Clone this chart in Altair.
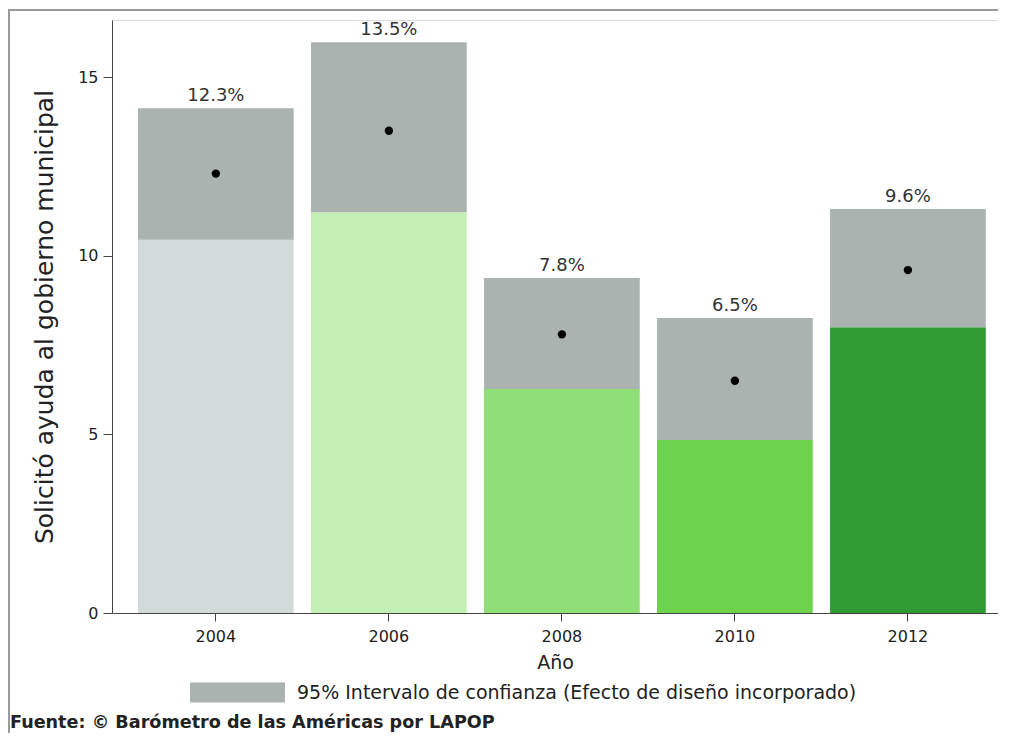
import altair as alt
import pandas as pd

years = ["2004", "2006", "2008", "2010", "2012"]
means = [12.3, 13.5, 7.8, 6.5, 9.6]
lower = [10.45, 11.22, 6.27, 4.84, 8.0]
upper = [14.13, 15.98, 9.38, 8.26, 11.31]
labels = ["12.3%", "13.5%", "7.8%", "6.5%", "9.6%"]
bar_colors = ["#d3dbda", "#c4efb4", "#8fdf76", "#6dd24c", "#2f9a31"]
ci_name = "95% Intervalo de confianza (Efecto de diseño incorporado)"
source_text = "Fuente: © Barómetro de las Américas por LAPOP"

df = pd.DataFrame({
    "year": years, "mean": means, "lower": lower, "upper": upper,
    "label": labels, "col": bar_colors, "ci": [ci_name] * len(years),
})

FONT = "DejaVu Sans"
xscale = alt.Scale(paddingInner=0.1, paddingOuter=0.1105, align=0.68)
yscale = alt.Scale(domain=[0, 16.6], nice=False, zero=True)

x = alt.X("year:N", scale=xscale, sort=years,
          axis=alt.Axis(title="Año", labelAngle=0, tickSize=8, labelPadding=7,
                        labelFontSize=16, titleFontSize=19, titlePadding=9,
                        labelColor="#222", titleColor="#222", titleFontWeight="normal",
                        domainColor="#444", tickColor="#444", labelFont=FONT, titleFont=FONT))

base = alt.Chart(df)

bars = base.mark_bar().encode(
    x=x,
    y=alt.Y("lower:Q", scale=yscale,
            axis=alt.Axis(title="Solicitó ayuda al gobierno municipal", values=[0, 5, 10, 15],
                          tickSize=9, labelPadding=5, labelFontSize=16, titleFontSize=25,
                          titlePadding=20, grid=False, labelColor="#222", titleColor="#222",
                          titleFontWeight="normal", domainColor="#444", tickColor="#444",
                          labelFont=FONT, titleFont=FONT)),
    color=alt.Color("col:N", scale=None, legend=None),
)

ci = base.mark_bar().encode(
    x=alt.X("year:N", scale=xscale, sort=years),
    y=alt.Y("lower:Q", scale=yscale),
    y2="upper:Q",
    fill=alt.Fill("ci:N", scale=alt.Scale(domain=[ci_name], range=["#aab3b0"]),
                  legend=alt.Legend(title=None, orient="none", legendX=78, legendY=625,
                                    symbolType="M-1,-0.21H1V0.21H-1Z", symbolSize=9025,
                                    symbolStrokeWidth=0, labelOffset=12, labelFontSize=19,
                                    labelFont=FONT, labelColor="#222", padding=0,
                                    labelLimit=800)),
)

dots = base.mark_circle(size=70, color="black", opacity=1).encode(
    x=alt.X("year:N", scale=xscale, sort=years),
    y=alt.Y("mean:Q", scale=yscale),
)

txt = base.mark_text(baseline="bottom", dy=-3, fontSize=18, font=FONT, color="#333").encode(
    x=alt.X("year:N", scale=xscale, sort=years),
    y=alt.Y("upper:Q", scale=yscale),
    text="label:N",
)

src = alt.Chart(pd.DataFrame({"t": [source_text]})).mark_text(
    align="left", baseline="middle", fontSize=17.6, font=FONT, fontWeight="bold", color="#222"
).encode(x=alt.value(-102), y=alt.value(703), text="t:N")

frame_top = alt.Chart(pd.DataFrame({"k": [0]})).mark_rule(color="#9a9a9a", strokeWidth=2).encode(
    x=alt.value(-104), x2=alt.value(890), y=alt.value(-10))
frame_left = alt.Chart(pd.DataFrame({"k": [0]})).mark_rule(color="#9a9a9a", strokeWidth=2).encode(
    x=alt.value(-103), y=alt.value(-10), y2=alt.value(725))

chart = alt.layer(bars, ci, dots, txt, src, frame_top, frame_left).resolve_scale(
    fill="independent", color="independent").properties(
    width=886, height=593,
    autosize=alt.AutoSizeParams(type="none"),
    padding={"left": 104, "top": 12, "right": 0, "bottom": 120},
).configure_view(strokeWidth=0, stroke="transparent").configure(background="white")

chart.save("out.html", embed_options={"renderer": "svg", "actions": False})
